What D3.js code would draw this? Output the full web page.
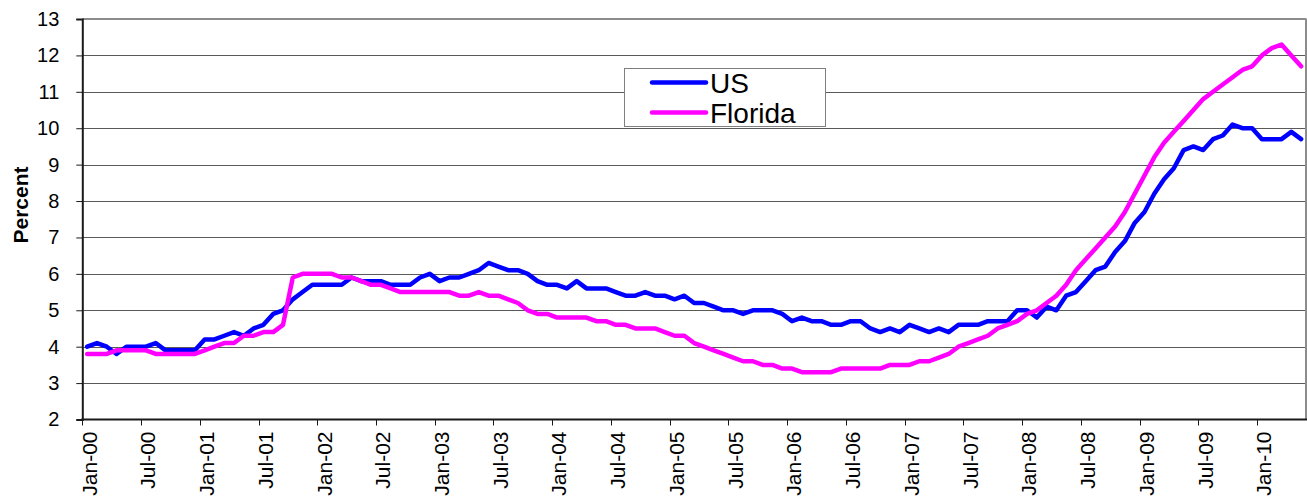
<!DOCTYPE html>
<html>
<head>
<meta charset="utf-8">
<script src="https://cdn.jsdelivr.net/npm/d3@7"></script>
<style>
  html, body { margin: 0; padding: 0; background: #fff; }
  svg { display: block; font-family: Arial, "Liberation Sans", sans-serif; }
</style>
</head>
<body>
<svg id="chart" width="1307" height="504"></svg>
<script>
// ---- Data (monthly, Jan-2000 .. May-2010) ----
const firstMonth = "2000-01";
const monthCount = 125;
const tickLabels = ["Jan-00","Jul-00","Jan-01","Jul-01","Jan-02","Jul-02","Jan-03","Jul-03",
  "Jan-04","Jul-04","Jan-05","Jul-05","Jan-06","Jul-06","Jan-07","Jul-07","Jan-08","Jul-08",
  "Jan-09","Jul-09","Jan-10"];
const yTicks = [2,3,4,5,6,7,8,9,10,11,12,13];

const usValues = [
  4.0,4.1,4.0,3.8,4.0,4.0,4.0,4.1,3.9,3.9,3.9,3.9,
  4.2,4.2,4.3,4.4,4.3,4.5,4.6,4.9,5.0,5.3,5.5,5.7,
  5.7,5.7,5.7,5.9,5.8,5.8,5.8,5.7,5.7,5.7,5.9,6.0,
  5.8,5.9,5.9,6.0,6.1,6.3,6.2,6.1,6.1,6.0,5.8,5.7,
  5.7,5.6,5.8,5.6,5.6,5.6,5.5,5.4,5.4,5.5,5.4,5.4,
  5.3,5.4,5.2,5.2,5.1,5.0,5.0,4.9,5.0,5.0,5.0,4.9,
  4.7,4.8,4.7,4.7,4.6,4.6,4.7,4.7,4.5,4.4,4.5,4.4,
  4.6,4.5,4.4,4.5,4.4,4.6,4.6,4.6,4.7,4.7,4.7,5.0,
  5.0,4.8,5.1,5.0,5.4,5.5,5.8,6.1,6.2,6.6,6.9,7.4,
  7.7,8.2,8.6,8.9,9.4,9.5,9.4,9.7,9.8,10.1,10.0,10.0,
  9.7,9.7,9.7,9.9,9.7
];
const floridaValues = [
  3.8,3.8,3.8,3.9,3.9,3.9,3.9,3.8,3.8,3.8,3.8,3.8,
  3.9,4.0,4.1,4.1,4.3,4.3,4.4,4.4,4.6,5.9,6.0,6.0,
  6.0,6.0,5.9,5.9,5.8,5.7,5.7,5.6,5.5,5.5,5.5,5.5,
  5.5,5.5,5.4,5.4,5.5,5.4,5.4,5.3,5.2,5.0,4.9,4.9,
  4.8,4.8,4.8,4.8,4.7,4.7,4.6,4.6,4.5,4.5,4.5,4.4,
  4.3,4.3,4.1,4.0,3.9,3.8,3.7,3.6,3.6,3.5,3.5,3.4,
  3.4,3.3,3.3,3.3,3.3,3.4,3.4,3.4,3.4,3.4,3.5,3.5,
  3.5,3.6,3.6,3.7,3.8,4.0,4.1,4.2,4.3,4.5,4.6,4.7,
  4.9,5.0,5.2,5.4,5.7,6.1,6.4,6.7,7.0,7.3,7.7,8.2,
  8.7,9.2,9.6,9.9,10.2,10.5,10.8,11.0,11.2,11.4,11.6,11.7,
  12.0,12.2,12.3,12.0,11.7
];
const seriesNames = ["US", "Florida"];
const seriesColors = ["#0000ff", "#ff00ff"];

// ---- Build ----
const start = d3.timeParse("%Y-%m")(firstMonth);
const months = d3.range(monthCount).map(i => d3.timeMonth.offset(start, i));

const svg = d3.select("#chart");
const M = { left: 82.3, right: 1306, top: 19, bottom: 419.5 };

const x = d3.scaleBand().domain(d3.range(monthCount)).range([M.left, M.right]).padding(0);
const y = d3.scaleLinear().domain([2, 13]).range([M.bottom, M.top]);
const cx = i => x(i) + x.bandwidth() / 2;

// gridlines
svg.append("g").selectAll("line").data(yTicks.filter(v => v > 2 && v < 13)).join("line")
  .attr("x1", M.left).attr("x2", M.right)
  .attr("y1", d => Math.round(y(d)) + 0.5).attr("y2", d => Math.round(y(d)) + 0.5)
  .attr("stroke", "#5a5a5a").attr("stroke-width", 1);

// plot frame top/right
svg.append("line").attr("x1", M.left).attr("x2", M.right + 0.5).attr("y1", M.top).attr("y2", M.top)
  .attr("stroke", "#8c8c8c").attr("stroke-width", 2);
svg.append("line").attr("x1", M.right).attr("x2", M.right).attr("y1", M.top).attr("y2", M.bottom)
  .attr("stroke", "#8c8c8c").attr("stroke-width", 2);

// y axis
const yAxis = d3.axisLeft(y).tickValues(yTicks).tickSize(6).tickPadding(17).tickFormat(d3.format("d"));
const gy = svg.append("g").attr("transform", `translate(${M.left},0)`).call(yAxis);
gy.select(".domain").attr("stroke", "#1a1a1a").attr("stroke-width", 2);
gy.selectAll(".tick line").attr("stroke", "#1a1a1a").attr("stroke-width", 1);
gy.selectAll(".tick text").attr("font-size", 20).attr("fill", "#000")
  .attr("font-family", "Arial, 'Liberation Sans', sans-serif");

// x axis (ticks at boundaries every 6 months, labels at category centre)
const tickIdx = d3.range(0, monthCount, 6);
const gx = svg.append("g");
gx.append("line").attr("x1", M.left - 1).attr("x2", M.right + 1).attr("y1", M.bottom).attr("y2", M.bottom)
  .attr("stroke", "#1a1a1a").attr("stroke-width", 2);
gx.selectAll("line.tk").data(tickIdx).join("line").attr("class", "tk")
  .attr("x1", i => Math.round(x(i)) + 0.5).attr("x2", i => Math.round(x(i)) + 0.5)
  .attr("y1", M.bottom).attr("y2", M.bottom + 6)
  .attr("stroke", "#1a1a1a").attr("stroke-width", 1);
gx.selectAll("text").data(tickIdx).join("text")
  .attr("transform", i => `translate(${cx(i) + 2},${M.bottom + 12}) rotate(-90)`)
  .attr("text-anchor", "end").attr("dy", "0.35em")
  .attr("font-size", 21).attr("fill", "#000")
  .text((i, k) => tickLabels[k]);

// y title
svg.append("text").attr("transform", `translate(28,205) rotate(-90)`)
  .attr("text-anchor", "middle").attr("font-weight", "bold").attr("font-size", 21)
  .text("Percent");

// lines
const line = d3.line().x((d, i) => cx(i)).y(d => y(d));
[usValues, floridaValues].forEach((vals, k) => {
  svg.append("path").datum(vals).attr("d", line)
    .attr("fill", "none").attr("stroke", seriesColors[k]).attr("stroke-width", 4.5)
    .attr("stroke-linejoin", "round").attr("stroke-linecap", "round");
});

// legend
const lg = svg.append("g");
lg.append("rect").attr("x", 624.5).attr("y", 68.5).attr("width", 201).attr("height", 58)
  .attr("fill", "#fff").attr("stroke", "#7f7f7f").attr("stroke-width", 1);
seriesNames.forEach((name, k) => {
  const ly = 82.5 + k * 30;
  lg.append("line").attr("x1", 652).attr("x2", 706).attr("y1", ly).attr("y2", ly)
    .attr("stroke", seriesColors[k]).attr("stroke-width", 4.5).attr("stroke-linecap", "round");
  lg.append("text").attr("x", 710).attr("y", ly + 10).attr("font-size", 28).attr("fill", "#000")
    .text(name);
});
</script>
</body>
</html>
